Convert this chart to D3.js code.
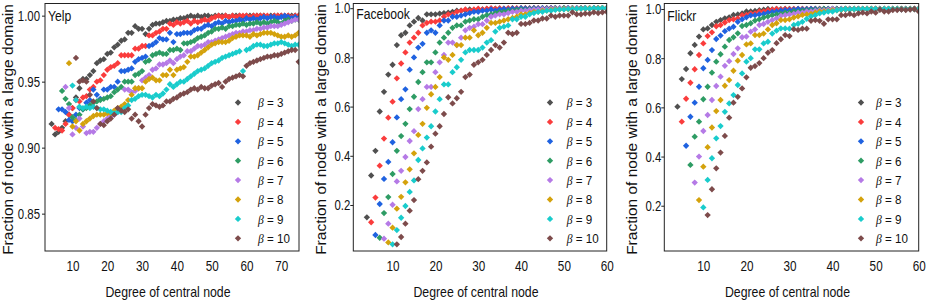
<!DOCTYPE html>
<html>
<head>
<meta charset="utf-8">
<style>
body { margin: 0; background: #fff; }
svg text { font-family: "Liberation Sans", Arial, sans-serif; fill: #111; }
</style>
</head>
<body>
<script src="https://d3js.org/d3.v7.min.js"></script>
<div id="chart"></div>
<script>
// beta values, colours, first degree of each series (degree steps by 1)
var betas = [3, 4, 5, 6, 7, 8, 9, 10];
var colors = ['#505050', '#fa3c3c', '#1f62e0', '#2e9c64', '#b57ae6', '#d4a20c', '#19cccc', '#7d4b4b'];
var xStart = [4, 5, 6, 7, 8, 9, 10, 11];

// Yelp (degree up to 75)
var yelpB3 = [.918,.910,.912,.915,.920,.925,.930,.938,.945,.952, .952,.955,.958,.964,.966,.967,.971,.972,.976,.978,
  .981,.982,.987,.987,.992,.990,.990,.986,.990,.993, .994,.994,.995,.996,.996,.997,.997,.998,.998,.999,
  1.0,.999,1.0,.999,1.0,1.0,.999,1.0,1.0,1.0, 1.0,.999,1.0,1.0,1.0,.999,1.0,1.0,1.0,1.0, 1.0,1.0,.999,1.0,1.0,1.0,1.0,.999,1.0,1.0, 1.0,1.0];
var yelpB4 = [.915,.914,.913,.918,.925,.930,.936,.935,.938,.939, .944,.946,.950,.951,.955,.959,.961,.962,.964,.970,
  .970,.970,.970,.975,.975,.977,.977,.985,.985,.987, .988,.990,.990,.994,.993,.995,.994,.995,.996,.994,
  .996,.995,.996,.997,.996,.998,.999,1.0,.999,1.0, .999,1.0,.999,1.0,1.0,1.0,.999,1.0,1.0,1.0, 1.0,1.0,.999,1.0,1.0,1.0,1.0,1.0,.999,1.0, 1.0];
var yelpB5 = [.929,.929,.927,.921,.920,.925,.930,.929,.934,.936, .944,.940,.937,.944,.944,.946,.946,.950,.958,.958,
  .959,.960,.965,.967,.968,.969,.977,.978,.980,.983, .982,.982,.987,.980,.986,.986,.987,.987,.987,.989,
  .990,.990,.992,.993,.992,.994,.995,.994,.996,.995, .996,.996,.997,.996,.998,.997,.998,.997,.998,.999, .998,.999,.999,.998,.999,1.0,.999,.998,.999,.998];
var yelpB6 = [.943,.937,.933,.923,.921,.925,.929,.930,.932,.934, .935,.936,.937,.938,.939,.942,.944,.946,.950,.950,
  .950,.955,.956,.958,.965,.966,.970,.971,.972,.971, .971,.974,.974,.975,.974,.979,.979,.980,.981,.983,
  .984,.985,.987,.988,.990,.990,.991,.990,.992,.992, .993,.993,.994,.993,.994,.994,.995,.994,.995,.994, .995,.996,.995,.994,.996,.997,.996,.997,.997];
var yelpB7 = [.946,.930,.910,.915,.922,.916,.911,.912,.912,.915, .918,.920,.922,.924,.925,.927,.929,.944,.944,.942,
  .943,.945,.951,.953,.955,.959,.960,.963,.963,.964, .966,.964,.967,.969,.970,.973,.973,.975,.977,.977,
  .978,.980,.980,.981,.982,.983,.984,.985,.986,.987, .987,.988,.988,.989,.989,.990,.990,.991,.991,.992, .992,.992,.993,.994,.995,.996,.997,.997];
var yelpB8 = [.964,.916,.920,.913,.918,.920,.922,.924,.925,.925, .925,.926,.926,.928,.930,.931,.933,.936,.940,.945,
  .945,.945,.950,.952,.953,.951,.951,.955,.955,.959, .955,.959,.960,.961,.965,.969,.969,.970,.972,.974,
  .976,.978,.979,.980,.980,.980,.981,.983,.984,.985, .985,.985,.984,.986,.985,.986,.987,.987,.987,.986, .985,.984,.984,.985,.984,.985,.987];
var yelpB9 = [.947,.936,.931,.930,.931,.930,.931,.930,.929,.929, .928,.927,.926,.927,.927,.930,.932,.936,.937,.939,
  .940,.940,.939,.938,.940,.939,.941,.944,.948,.946, .948,.950,.950,.952,.954,.956,.958,.959,.960,.962,
  .964,.965,.966,.968,.969,.970,.971,.972,.973,.958, .974,.975,.977,.978,.978,.977,.977,.978,.979,.979, .980,.979,.978,.977,.978,.978];
var yelpB10 = [.968,.950,.951,.950,.940,.935,.930,.918,.917,.920, .922,.925,.930,.928,.927,.929,.922,.925,.920,.916,
  .925,.930,.933,.932,.931,.932,.935,.935,.937,.938, .940,.941,.942,.944,.945,.944,.946,.945,.945,.947,
  .948,.949,.946,.950,.952,.953,.954,.955,.954,.962, .964,.965,.966,.967,.968,.969,.969,.970,.970,.971, .972,.973,.974,.974,.965];

// Facebook (degree up to 60)
var fbB3 = [.15,.32,.42,.58,.66,.73,.77,.85,.89,.90, .93,.945,.96,.95,.975,.975,.975,.978,.98,.982,
  .985,.99,.99,.992,.995,.99,.995,.995,.997,.995, .998,.997,.998,.998,1.0,.998,.999,1.0,.998,1.0,
  .999,1.0,.999,1.0,1.0,.999,1.0,1.0,.999,1.0, 1.0,1.0,.999,1.0,1.0,1.0,1.0];
var fbB4 = [.13,.23,.36,.47,.555,.62,.715,.775,.82,.86, .88,.90,.93,.94,.945,.945,.95,.965,.975,.975,
  .985,.99,.995,.99,.995,.998,.995,.998,1.0,.997, 1.0,.998,1.0,.999,1.0,1.0,.999,1.0,1.0,1.0,
  .999,1.0,1.0,1.0,1.0,.999,1.0,1.0,1.0,1.0, 1.0,.999,1.0,1.0,1.0,1.0];
var fbB5 = [.078,.204,.306,.375,.455,.556,.63,.67,.75,.80, .84,.855,.90,.91,.90,.93,.95,.95,.965,.965,
  .97,.975,.98,.985,.985,.99,.99,.995,.99,.995, .997,.995,.998,.997,1.0,.998,.999,1.0,.999,1.0,
  .999,1.0,1.0,.999,1.0,1.0,1.0,.999,1.0,1.0, 1.0,1.0,.999,1.0,1.0];
var fbB6 = [.067,.167,.232,.326,.42,.48,.53,.59,.64,.70, .74,.78,.78,.82,.86,.88,.90,.92,.93,.93,
  .945,.95,.955,.955,.965,.972,.975,.98,.985,.985, .99,.99,.993,.995,.993,.996,.997,.995,.998,.997,
  .998,.999,.998,1.0,.999,1.0,.999,1.0,1.0,.999, 1.0,1.0,1.0,.999];
var fbB7 = [.063,.124,.201,.296,.339,.395,.46,.50,.59,.63, .68,.68,.74,.78,.81,.86,.86,.85,.88,.91,
  .92,.925,.935,.935,.95,.965,.97,.975,.975,.98, .985,.985,.99,.99,.993,.995,.995,.997,.996,.998,
  .998,.999,.998,1.0,.999,1.0,1.0,.999,1.0,1.0, 1.0,.999,1.0];
var fbB8 = [.048,.108,.185,.233,.292,.345,.41,.485,.53,.595, .65,.68,.72,.80,.79,.81,.85,.85,.88,.88,
  .91,.89,.90,.92,.94,.94,.945,.95,.955,.96, .965,.975,.975,.98,.985,.985,.99,.99,.993,.995,
  .995,.997,.996,.998,.997,.999,.998,1.0,.999,1.0, 1.0,.999];
var fbB9 = [.040,.098,.148,.196,.253,.30,.383,.43,.474,.52, .58,.63,.69,.69,.74,.76,.79,.82,.83,.83,
  .83,.84,.86,.87,.905,.92,.925,.93,.955,.955, .965,.965,.975,.98,.985,.985,.99,.99,.993,.995,
  .995,.997,.996,.998,.998,.999,.998,1.0,.999,1.0, 1.0];
var fbB10 = [.040,.070,.124,.177,.22,.305,.339,.373,.437,.49, .52,.57,.638,.613,.634,.66,.72,.73,.77,.78,
  .79,.81,.83,.85,.84,.86,.90,.895,.90,.936, .936,.94,.95,.95,.958,.958,.97,.965,.97,.97,
  .97,.983,.975,.975,.978,.978,.983,.98,.983,.985];

// Flickr (degree up to 60)
var flB3 = [.603,.715,.756,.82,.854,.888,.917,.921,.935,.948, .955,.962,.966,.976,.978,.982,.99,.99,.992,.995,
  .997,1.0,.998,1.0,.999,1.0,1.0,.999,1.0,1.0, 1.0,.999,1.0,1.0,1.0,1.0,.999,1.0,1.0,1.0,
  1.0,1.0,1.0,.999,1.0,1.0,1.0,1.0,1.0,.999, 1.0,1.0,1.0,1.0,1.0,1.0,1.0];
var flB4 = [.542,.635,.70,.755,.813,.86,.89,.905,.93,.935, .945,.955,.958,.962,.975,.976,.982,.982,.99,.99,
  .995,.997,1.0,.998,1.0,.999,1.0,1.0,1.0,.999, 1.0,1.0,1.0,1.0,.999,1.0,1.0,1.0,1.0,1.0,
  1.0,.999,1.0,1.0,1.0,1.0,1.0,1.0,.999,1.0, 1.0,1.0,1.0,1.0,1.0,1.0];
var flB5 = [.444,.562,.619,.684,.759,.793,.833,.878,.892,.91, .92,.928,.948,.958,.966,.974,.975,.978,.98,.985,
  .988,.99,.993,.995,.995,.997,1.0,.998,.999,1.0, 1.0,.999,1.0,1.0,1.0,1.0,.999,1.0,1.0,1.0,
  1.0,1.0,1.0,.999,1.0,1.0,1.0,1.0,1.0,1.0, .999,1.0,1.0,1.0,1.0];
var flB6 = [.366,.481,.542,.633,.684,.741,.786,.816,.847,.874, .885,.901,.931,.935,.942,.953,.958,.965,.97,.975,
  .978,.98,.985,.985,.99,.99,.993,.995,.995,.997, .998,1.0,.999,1.0,1.0,.999,1.0,1.0,1.0,1.0,
  .999,1.0,1.0,1.0,1.0,1.0,.999,1.0,1.0,1.0, 1.0,1.0,1.0,1.0];
var flB7 = [.294,.40,.504,.569,.63,.687,.725,.769,.788,.817, .84,.885,.888,.908,.917,.935,.939,.948,.955,.962,
  .972,.975,.978,.98,.985,.985,.99,.99,.993,.995, .995,.997,1.0,.998,1.0,.999,1.0,1.0,1.0,.999,
  1.0,1.0,1.0,1.0,1.0,.999,1.0,1.0,1.0,1.0, 1.0,1.0,1.0];
var flB8 = [.223,.359,.438,.518,.585,.63,.688,.711,.749,.79, .813,.856,.86,.894,.894,.90,.917,.935,.942,.955,
  .955,.958,.965,.97,.976,.978,.98,.985,.99,.99, .992,.995,.995,.997,1.0,.998,1.0,.999,1.0,1.0,
  1.0,1.0,.999,1.0,1.0,1.0,1.0,1.0,.999,1.0, 1.0,1.0];
var flB9 = [.193,.305,.393,.474,.524,.582,.616,.65,.691,.738, .786,.80,.836,.836,.86,.867,.90,.912,.921,.921,
  .92,.935,.94,.948,.96,.97,.975,.982,.985,.99, .99,.995,.998,1.0,.998,1.0,.999,1.0,1.0,1.0,
  1.0,.999,1.0,1.0,1.0,1.0,1.0,.999,1.0,1.0, 1.0];
var flB10 = [.162,.267,.352,.416,.484,.558,.619,.643,.677,.722, .761,.768,.78,.80,.822,.833,.861,.877,.894,.89,
  .918,.915,.92,.92,.952,.955,.952,.94,.958,.958, .958,.975,.975,.98,.975,.982,.985,.982,.99,.985,
  .997,.99,.99,.996,.996,.998,.996,.998,1.0,.99];

var yelpTicksX = [10, 20, 30, 40, 50, 60, 70];
var yelpTicksY = [0.85, 0.90, 0.95, 1.00];
var otherTicksX = [10, 20, 30, 40, 50, 60];
var otherTicksY = [0.2, 0.4, 0.6, 0.8, 1.0];

var plotTop = 3.5, plotBottom = 251;

var panels = [
  {name: "Yelp", series: [yelpB3, yelpB4, yelpB5, yelpB6, yelpB7, yelpB8, yelpB9, yelpB10],
   left: 45, right: 299, xDom: [2.1, 75.1], yDom: [0.8217, 1.0092],
   xTicks: yelpTicksX, yTicks: yelpTicksY, fmt: ".2f", pad: 2, titleY: 21, ytitle: 31.7, legX: 238, legGap: 20},
  {name: "Facebook", series: [fbB3, fbB4, fbB5, fbB6, fbB7, fbB8, fbB9, fbB10],
   left: 353.3, right: 606.7, xDom: [0.83, 60], yDom: [0.013, 1.019],
   xTicks: otherTicksX, yTicks: otherTicksY, fmt: ".1f", pad: 0, titleY: 18.5, ytitle: 27.3, legX: 550, legGap: 16.7},
  {name: "Flickr", series: [flB3, flB4, flB5, flB6, flB7, flB8, flB9, flB10],
   left: 664.3, right: 918.7, xDom: [0.94, 60], yDom: [0.0159, 1.0224],
   xTicks: otherTicksX, yTicks: otherTicksY, fmt: ".1f", pad: 0, titleY: 21, ytitle: 27.6, legX: 861, legGap: 15}
];

var svg = d3.select("#chart").append("svg")
  .attr("width", 926)
  .attr("height", 300);

// narrows text horizontally like the squeezed original
function squeeze(sel, k) {
  sel.each(function() {
    var w = this.getComputedTextLength();
    this.setAttribute("textLength", w * k);
    this.setAttribute("lengthAdjust", "spacingAndGlyphs");
  });
}

var marker = d3.symbol().type(d3.symbolSquare).size(20);

panels.forEach(function(p, pi) {
  var x = d3.scaleLinear().domain(p.xDom).range([p.left, p.right]);
  var y = d3.scaleLinear().domain(p.yDom).range([plotBottom, plotTop]);

  svg.append("clipPath").attr("id", "clip" + pi)
    .append("rect")
    .attr("x", p.left).attr("y", plotTop)
    .attr("width", p.right - p.left).attr("height", plotBottom - plotTop);

  var g = svg.append("g").attr("clip-path", "url(#clip" + pi + ")");

  p.series.forEach(function(vals, si) {
    g.selectAll(".s" + si)
      .data(vals)
      .enter().append("path")
      .attr("class", "s" + si)
      .attr("d", marker)
      .attr("fill", colors[si])
      .attr("transform", function(d, i) {
        return "translate(" + x(xStart[si] + i) + "," + y(d) + ") rotate(45)";
      });
  });

  // frame
  svg.append("rect")
    .attr("x", p.left).attr("y", plotTop)
    .attr("width", p.right - p.left).attr("height", plotBottom - plotTop)
    .attr("fill", "none").attr("stroke", "#222").attr("stroke-width", 1);

  var xa = svg.append("g")
    .attr("transform", "translate(0," + plotBottom + ")")
    .call(d3.axisBottom(x).tickValues(p.xTicks).tickSize(0).tickPadding(9.7).tickFormat(d3.format("d")));
  xa.select(".domain").remove();
  xa.selectAll("text").style("font-size", "15px").attr("font-family", null).attr("fill", "#111").call(squeeze, 0.78);

  var ya = svg.append("g")
    .attr("transform", "translate(" + p.left + ",0)")
    .call(d3.axisLeft(y).tickValues(p.yTicks).tickSize(3).tickPadding(p.pad).tickFormat(d3.format(p.fmt)));
  ya.select(".domain").remove();
  ya.selectAll("line").attr("stroke", "#222");
  ya.selectAll("text").style("font-size", "15px").attr("font-family", null).attr("fill", "#111").call(squeeze, 0.76);
  xa.attr("font-family", null).attr("font-size", null);
  ya.attr("font-family", null).attr("font-size", null);

  svg.append("text")
    .attr("x", p.left + 3).attr("y", p.titleY)
    .style("font-size", "14px")
    .text(p.name)
    .call(squeeze, 0.87);

  svg.append("text")
    .attr("x", (p.left + p.right) / 2 - 4).attr("y", 296.5)
    .attr("text-anchor", "middle")
    .style("font-size", "15px")
    .text("Degree of central node")
    .call(squeeze, 0.82);

  svg.append("text")
    .attr("transform", "translate(" + (p.left - p.ytitle) + ",129.5) rotate(-90)")
    .attr("text-anchor", "middle")
    .style("font-size", "15.5px")
    .text("Fraction of node with a large domain");

  // legend
  betas.forEach(function(b, i) {
    var ly = 102.5 + i * 19.4;
    svg.append("path")
      .attr("d", marker)
      .attr("fill", colors[i])
      .attr("transform", "translate(" + p.legX + "," + ly + ") rotate(45)");
    var t = svg.append("text")
      .attr("x", p.legX + p.legGap).attr("y", ly)
      .attr("dy", "0.36em")
      .style("font-size", "13.5px");
    t.append("tspan").style("font-family", "'Liberation Serif', 'Times New Roman', serif").style("font-style", "italic").text("β");
    t.append("tspan").text(" = " + b);
    t.call(squeeze, 0.86);
  });
});
</script>
</body>
</html>
